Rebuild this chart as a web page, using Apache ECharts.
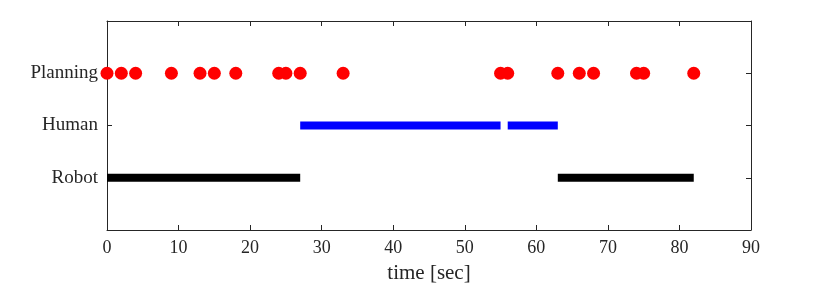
<!DOCTYPE html>
<html><head><meta charset="utf-8">
<script src="https://cdn.jsdelivr.net/npm/echarts@6/dist/echarts.min.js"></script>
<style>html,body{margin:0;padding:0;background:#fff}#c{width:830px;height:289px}</style>
</head><body><div id="c"></div>
<script>
const categories = ['Robot', 'Human', 'Planning'];
const planningTimes = [0, 2, 4, 9, 13, 15, 18, 24, 25, 27, 33, 55, 56, 63, 66, 68, 74, 75, 82];
const humanSegments = [[27, 55], [56, 63]];
const robotSegments = [[0, 27], [63, 82]];
const xTicks = [0, 10, 20, 30, 40, 50, 60, 70, 80, 90];

const font = 'Liberation Serif';
const axisColor = '#262626';
const chart = echarts.init(document.getElementById('c'), null, {renderer: 'canvas'});

function segSeries(segs, level, color) {
  return segs.map(s => ({
    type: 'line', data: [[s[0], level], [s[1], level]], symbol: 'none',
    lineStyle: {color: color, width: 8, cap: 'butt'}, silent: true, animation: false, z: 2
  }));
}

const series = [
  ...segSeries(robotSegments, 1, '#000000'),
  ...segSeries(humanSegments, 2, '#0000ff'),
  {type: 'scatter', data: planningTimes.map(t => [t, 3]), symbol: 'circle', symbolSize: 13,
   itemStyle: {color: '#ff0000', opacity: 1}, animation: false, z: 3}
];

const tickCommon = {show: true, inside: true, length: 5, lineStyle: {color: axisColor, width: 1}};
chart.setOption({
  animation: false,
  grid: {left: 107, right: 79, top: 21, bottom: 58, show: false},
  xAxis: [
    {type: 'value', min: xTicks[0], max: xTicks[xTicks.length - 1], interval: 10, position: 'bottom',
     axisLine: {show: true, onZero: false, lineStyle: {color: axisColor, width: 1}},
     axisTick: tickCommon, splitLine: {show: false},
     axisLabel: {color: '#262626', fontFamily: font, fontSize: 18, margin: 9},
     name: 'time [sec]', nameLocation: 'middle', nameGap: 33,
     nameTextStyle: {color: '#262626', fontFamily: font, fontSize: 21}},
    {type: 'value', min: 0, max: 90, interval: 10, position: 'top',
     axisLine: {show: true, onZero: false, lineStyle: {color: axisColor, width: 1}},
     axisTick: tickCommon, axisLabel: {show: false}, splitLine: {show: false}}
  ],
  yAxis: [
    {type: 'value', min: 0, max: 4, interval: 1, position: 'left',
     axisLine: {show: true, onZero: false, lineStyle: {color: axisColor, width: 1}},
     axisTick: tickCommon, splitLine: {show: false},
     axisLabel: {color: '#262626', fontFamily: font, fontSize: 19, margin: 9,
       formatter: v => (v >= 1 && v <= 3) ? categories[v - 1] : ''}},
    {type: 'value', min: 0, max: 4, interval: 1, position: 'right',
     axisLine: {show: true, onZero: false, lineStyle: {color: axisColor, width: 1}},
     axisTick: tickCommon, axisLabel: {show: false}, splitLine: {show: false}}
  ],
  series: series
});
</script></body></html>
